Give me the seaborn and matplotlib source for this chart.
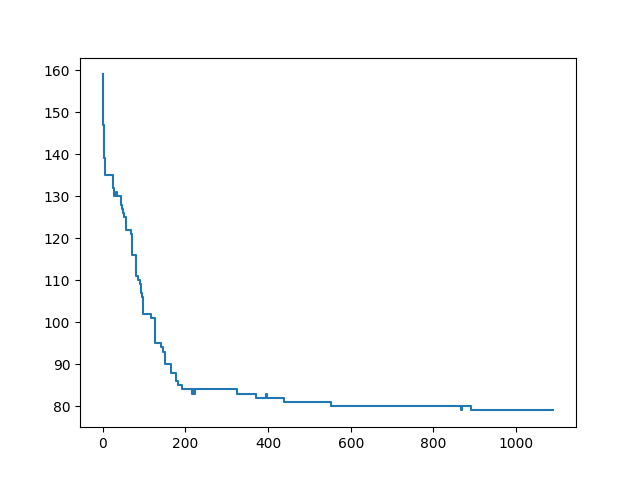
import matplotlib
matplotlib.use("Agg")
import matplotlib.pyplot as plt
import pandas as pd
import seaborn as sns

# breakpoints of the step curve (iteration, value)
iterations = [0, 1, 3, 5, 25, 26, 27, 33, 35, 45, 47, 49, 53, 56, 68, 70,
              80, 82, 86, 90, 94, 96, 98, 118, 126, 142, 146, 152, 166, 177,
              183, 191, 217, 219, 222, 224, 324, 371, 396, 398, 439, 553,
              866, 870, 890, 1090]
values = [159, 147, 139, 135, 134, 132, 130, 131, 130, 128, 127, 126, 125, 122, 121, 116,
          115, 111, 110, 109, 107, 106, 102, 101, 95, 94, 93, 90, 88, 86,
          85, 84, 83, 84, 83, 84, 83, 82, 83, 82, 81, 80,
          79, 80, 79, 79]

df = pd.DataFrame({"iteration": iterations, "value": values})

fig, ax = plt.subplots(figsize=(6.4, 4.8), dpi=100)
sns.lineplot(data=df, x="iteration", y="value", ax=ax,
             drawstyle="steps-post", color="#1f77b4", linewidth=1.5,
             estimator=None, sort=False)
ax.set_xlabel("")
ax.set_ylabel("")
fig.savefig("out.png")
